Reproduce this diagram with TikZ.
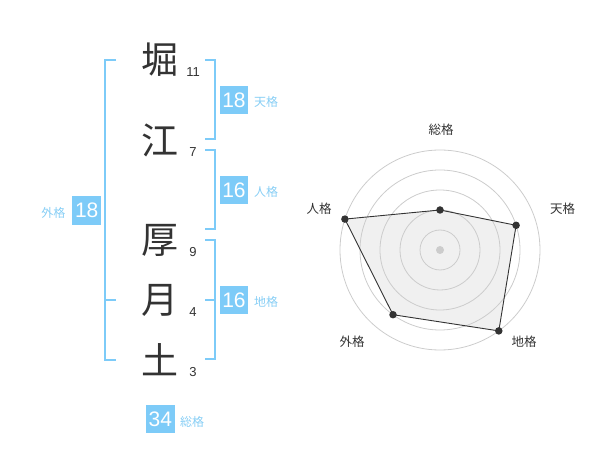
\documentclass[tikz,border=0pt]{standalone}
\usepackage{fontspec}
\setmainfont{Liberation Sans}
\newfontfamily\cjk{Noto Sans CJK JP}
\definecolor{boxblue}{RGB}{125,203,248}
\definecolor{lblblue}{RGB}{135,206,245}
\definecolor{inkgrey}{RGB}{51,51,51}
\definecolor{ringgrey}{RGB}{204,204,204}
\definecolor{fillgrey}{RGB}{225,225,225}
\tikzset{
  kanji/.style={font=\cjk\fontsize{37}{37}\selectfont, text=inkgrey, inner sep=0pt},
  strokes/.style={font=\fontsize{13}{13}\selectfont, text=inkgrey, inner sep=0pt},
  numbox/.style={fill=boxblue, text=white, minimum width=28.5pt, minimum height=28.5pt, inner sep=0pt, font=\fontsize{21}{21}\selectfont},
  kakulbl/.style={font=\cjk\fontsize{12}{12}\selectfont, text=lblblue, inner sep=0pt},
  bracket/.style={draw=boxblue, line width=2pt},
  radarlbl/.style={font=\cjk\fontsize{12.5}{12.5}\selectfont, text=inkgrey, inner sep=0pt},
  ring/.style={draw=ringgrey, line width=0.8pt},
  dot/.style={circle, fill=inkgrey, minimum size=7.5pt, inner sep=0pt},
}
\begin{document}
\begin{tikzpicture}[x=1pt,y=-1pt]
\useasboundingbox (0,0) rectangle (600,470);
% characters
\node[kanji] (c1) at (160,60) {堀};
\node[kanji] (c2) at (160,140) {江};
\node[kanji] (c3) at (160,240) {厚};
\node[kanji] (c4) at (160,300) {月};
\node[kanji] (c5) at (160,360) {土};
% stroke counts
\node[strokes] (s1) at (193,72) {11};
\node[strokes] (s2) at (193,152) {7};
\node[strokes] (s3) at (193,252) {9};
\node[strokes] (s4) at (193,312) {4};
\node[strokes] (s5) at (193,372) {3};
% left bracket (gaikaku)
\coordinate (lt) at (116,60);
\coordinate (lm) at (116,300);
\coordinate (lb) at (116,360);
\draw[bracket] (lt) -- (105,60) -- (105,360) -- (lb);
\draw[bracket] (105,300) -- (lm);
% right brackets
\draw[bracket] (205,60) -- (215,60) -- (215,139) -- (205,139);
\draw[bracket] (205,150) -- (215,150) -- (215,229) -- (205,229);
\draw[bracket] (205,240) -- (215,240) -- (215,359) -- (205,359);
\draw[bracket] (205,300) -- (215,300);
% boxes
\node[numbox] (ten) at (234,100) {18};
\node[kakulbl, anchor=west] (tenl) at (254,102) {天格};
\node[numbox] (jin) at (234,190) {16};
\node[kakulbl, anchor=west] (jinl) at (254,192) {人格};
\node[numbox] (chi) at (234,300) {16};
\node[kakulbl, anchor=west] (chil) at (254,302) {地格};
\node[numbox] (gai) at (86.7,210.5) {18};
\node[kakulbl, anchor=east] (gail) at (65.5,213) {外格};
\node[numbox] (sou) at (160.3,419) {34};
\node[kakulbl, anchor=west] (soul) at (180,421.5) {総格};
% radar
\coordinate (ctr) at (440,250);
\coordinate (p1) at (440,210);
\coordinate (p2) at (516.1,225.3);
\coordinate (p3) at (498.8,330.9);
\coordinate (p4) at (393.0,314.7);
\coordinate (p5) at (344.9,219.1);
\fill[fillgrey, fill opacity=0.5] (p1) -- (p2) -- (p3) -- (p4) -- (p5) -- cycle;
\foreach \r in {20,40,60,80,100} \draw[ring] (ctr) circle[radius=\r];
\draw[draw=inkgrey, line width=0.9pt] (p1) -- (p2) -- (p3) -- (p4) -- (p5) -- cycle;
\node[circle, fill=ringgrey, minimum size=8pt, inner sep=0pt] (cd) at (ctr) {};
\foreach \p in {p1,p2,p3,p4,p5} \node[dot] at (\p) {};
\node[radarlbl] (r1) at (441,129.5) {総格};
\node[radarlbl] (r2) at (562.5,208.5) {天格};
\node[radarlbl] (r3) at (524,341.5) {地格};
\node[radarlbl] (r4) at (352,341.5) {外格};
\node[radarlbl] (r5) at (319,208.5) {人格};
\end{tikzpicture}
\end{document}
